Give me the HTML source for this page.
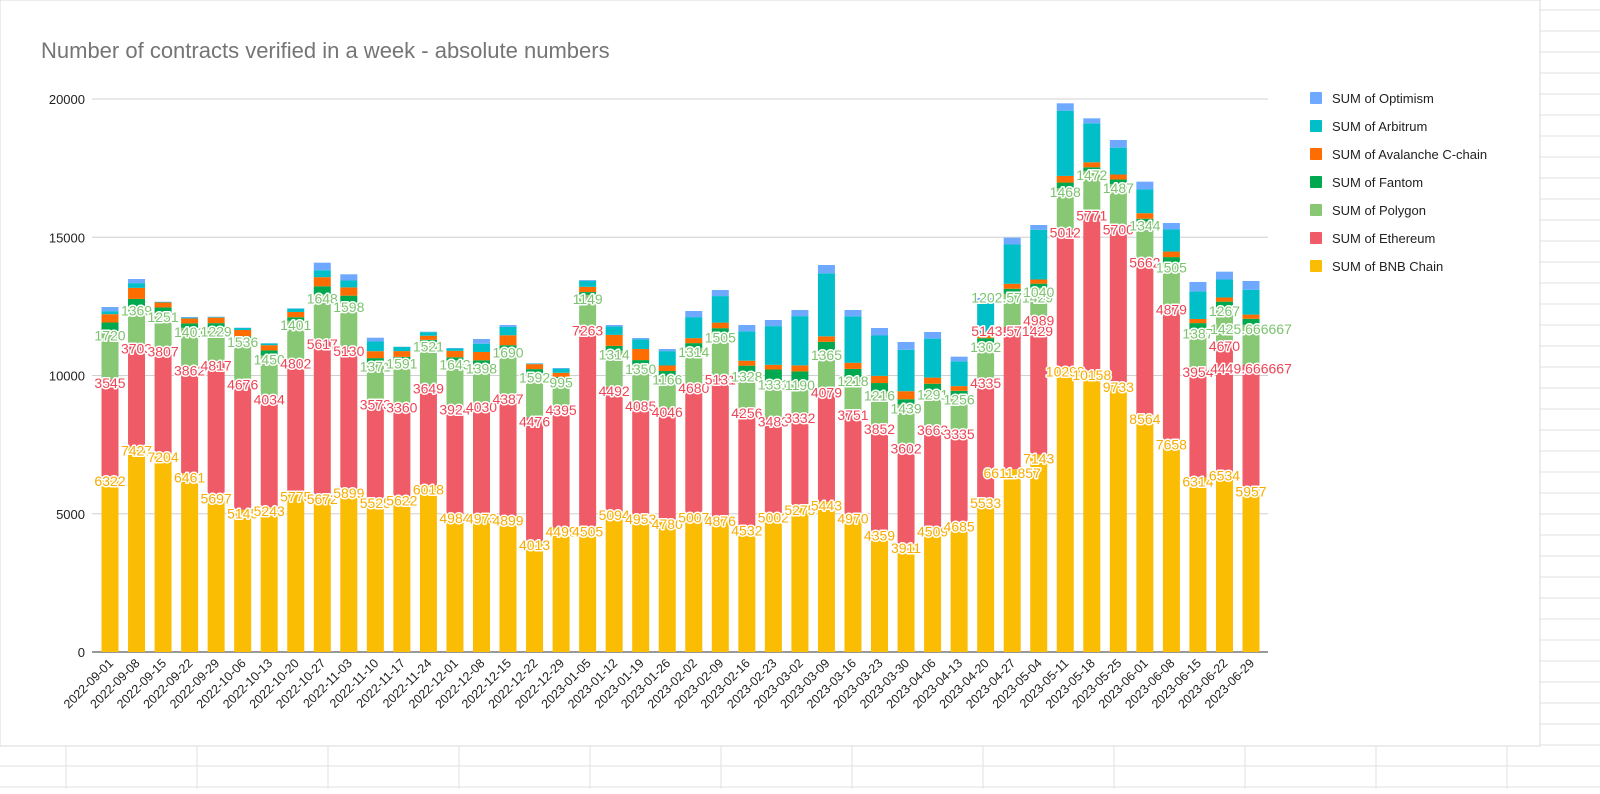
<!DOCTYPE html>
<html><head><meta charset="utf-8">
<style>
body{margin:0;background:#fff;font-family:"Liberation Sans",Arial,sans-serif;}
svg text{font-family:"Liberation Sans",Arial,sans-serif;}
</style></head>
<body>
<svg id="chart" width="1600" height="789" xmlns="http://www.w3.org/2000/svg">
<g id="bg"></g>
<rect x="0" y="0" width="1540" height="746" fill="#fff" stroke="#dadada"/>
<text x="41" y="58" font-size="22" fill="#757575">Number of contracts verified in a week - absolute numbers</text>
<g id="grid"></g><g id="bars"></g><g id="labels"></g><g id="xaxis"></g><g id="legend"></g>
</svg>
<script>
const dates=["2022-09-01","2022-09-08","2022-09-15","2022-09-22","2022-09-29","2022-10-06","2022-10-13","2022-10-20","2022-10-27","2022-11-03","2022-11-10","2022-11-17","2022-11-24","2022-12-01","2022-12-08","2022-12-15","2022-12-22","2022-12-29","2023-01-05","2023-01-12","2023-01-19","2023-01-26","2023-02-02","2023-02-09","2023-02-16","2023-02-23","2023-03-02","2023-03-09","2023-03-16","2023-03-23","2023-03-30","2023-04-06","2023-04-13","2023-04-20","2023-04-27","2023-05-04","2023-05-11","2023-05-18","2023-05-25","2023-06-01","2023-06-08","2023-06-15","2023-06-22","2023-06-29"];
const bnb=[6322,7427,7204,6461,5697,5145,5243,5775,5672,5899,5525,5622,6018,4984,4973,4899,4013,4499,4505,5094,4953,4780,5007,4876,4532,5002,5275,5443,4970,4359,3911,4509,4685,5533,6611.857,7143,10298,10158,9733,8564,7658,6314,6534,5957];
const eth=[3545,3703,3807,3862,4817,4676,4034,4802,5617,5130,3573,3360,3649,3924,4030,4387,4476,4395,7263,4492,4085,4046,4680,5131,4256,3483,3332,4079,3751,3852,3602,3663,3335,4335,5143.571429,4989,5012,5771,5700,5662,4879,3954,4670,4449.666667];
const polygon=[1720,1369,1251,1401,1229,1536,1450,1401,1648,1598,1371,1591,1521,1643,1398,1690,1592,995,1149,1314,1350,1166,1314,1505,1328,1331,1190,1365,1218,1216,1439,1291,1256,1302,1202.571429,1040,1468,1472,1487,1344,1505,1387,1267,1425.666667];
const fantom=[330,270,200,160,150,60,180,130,290,260,160,100,100,110,150,120,150,60,100,170,170,170,170,200,240,400,350,330,300,300,190,240,170,180,180,150,200,130,170,100,240,240,200,220];
const avalanche=[300,400,180,180,200,230,190,190,330,300,250,210,150,230,300,360,180,150,190,400,400,200,180,200,180,170,220,200,220,260,290,220,170,200,180,150,240,180,180,200,200,150,150,150];
const arbitrum=[110,171,17,30,20,70,60,120,250,250,350,150,130,90,300,300,20,150,220,300,350,520,760,960,1060,1400,1780,2280,1680,1460,1500,1410,900,1080,1420,1800,2360,1410,970,860,800,1000,650,900];
const optimism=[150,150,10,22,14,12,8,12,273,223,138,9,16,14,169,70,9,22,27,56,48,76,222,220,230,221,222,299,230,271,280,240,165,173,247,171,266,180,277,280,233,337,284,316];
const seriesNames=["SUM of BNB Chain","SUM of Ethereum","SUM of Polygon","SUM of Fantom","SUM of Avalanche C-chain","SUM of Arbitrum","SUM of Optimism"];
const yTicks=[0,5000,10000,15000,20000];

const colors=["#fbbc04","#ef5b67","#88c874","#00a94f","#ff6d01","#00bfc8","#6ea9ff"];
const labelColors=["#f9ab00","#ee4454","#7cc36f"];
const series=[bnb,eth,polygon,fantom,avalanche,arbitrum,optimism];
const NS="http://www.w3.org/2000/svg";
const y0=652, pxPer=553/20000;
const yS=v=>y0-v*pxPer;
const xS=i=>110+i*26.535;
const bw=17;
function mk(tag,attrs,parent){const e=document.createElementNS(NS,tag);for(const k in attrs)e.setAttribute(k,attrs[k]);parent.appendChild(e);return e;}
const bg=document.getElementById('bg');
for(let x=66;x<1600;x+=131){const l=mk('line',{x1:x,y1:0,x2:x,y2:789,stroke:'#e2e2e2'},bg);

}
for(let y=10;y<789;y+=21){const l=mk('line',{x1:0,y1:y,x2:1600,y2:y,stroke:'#e2e2e2'},bg);

}
const grid=document.getElementById('grid');
yTicks.forEach(t=>{
  const l=mk('line',{x1:92,x2:1268,y1:yS(t),y2:yS(t),stroke:t===0?'#333':'#d0d0d0','stroke-width':1},grid);
  
  
  const tx=mk('text',{x:85,y:yS(t)+5,'text-anchor':'end','font-size':13,fill:'#222'},grid);
  tx.textContent=t;
  
  
});
const bars=document.getElementById('bars'), labels=document.getElementById('labels'), xa=document.getElementById('xaxis');
dates.forEach((d,i)=>{
  let cum=0;const cx=xS(i);
  series.forEach((s,k)=>{
    const v=s[i];const top=yS(cum+v), bot=yS(cum);
    const r=mk('rect',{x:cx-bw/2,y:top,width:bw,height:Math.max(0,bot-top),fill:colors[k]},bars);
    
    
    if(k<3){
      const t=mk('text',{x:cx,y:top+9,'text-anchor':'middle','font-size':14,fill:labelColors[k],stroke:'#fff','stroke-width':3,'paint-order':'stroke','stroke-linejoin':'round'},labels);
      t.textContent=Number.isInteger(v)?v:+v.toFixed(6);
      
      
    }
    cum+=v;
  });
  const xt=mk('text',{x:cx+4,y:664,'text-anchor':'end','font-size':12.5,fill:'#222',transform:`rotate(-45 ${cx+4} 664)`},xa);
  xt.textContent=d;
  
  
});
const lg=document.getElementById('legend');
for(let k=6;k>=0;k--){
  const row=6-k;const y=98+row*28;
  const g=mk('g',{},lg);
  
  
  mk('rect',{x:1310,y:y-6,width:12,height:12,fill:colors[k],rx:1},g);
  const t=mk('text',{x:1332,y:y+5,'font-size':13,fill:'#222'},g);
  t.textContent=seriesNames[k];
}
</script>
</body></html>
